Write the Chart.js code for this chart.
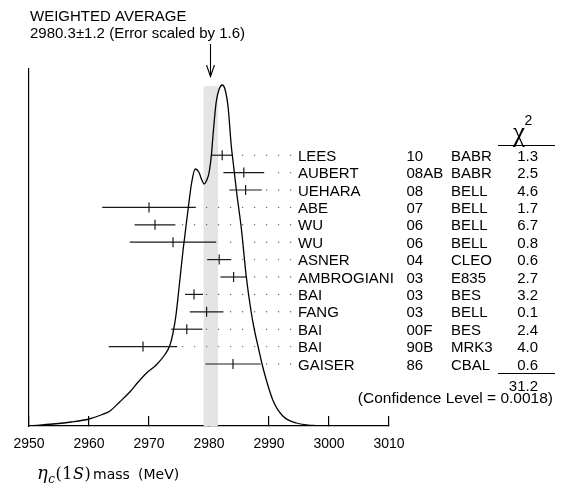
<!DOCTYPE html>
<html>
<head>
<meta charset="utf-8">
<script src="https://cdn.jsdelivr.net/npm/chart.js@4.4.1/dist/chart.umd.min.js"></script>
<style>
  body { margin: 0; background: #fff; }
  #wrap { width: 561px; height: 487px; position: relative; }
</style>
</head>
<body>
<div id="wrap"><canvas id="ideogram"></canvas></div>
<script>
// measurements, top row first
var names  = ["LEES", "AUBERT", "UEHARA", "ABE", "WU", "WU", "ASNER", "AMBROGIANI", "BAI", "FANG", "BAI", "BAI", "GAISER"];
var years  = ["10", "08AB", "08", "07", "06", "06", "04", "03", "03", "03", "00F", "90B", "86"];
var expts  = ["BABR", "BABR", "BELL", "BELL", "BELL", "BELL", "CLEO", "E835", "BES", "BELL", "BES", "MRK3", "CBAL"];
var values = [2982.2, 2985.8, 2986.1, 2970, 2971, 2974, 2981.7, 2984.1, 2977.5, 2979.6, 2976.3, 2969, 2984];
var errors = [1.7, 3.4, 2.7, 7.8, 3.4, 7.2, 2.0, 2.2, 1.5, 2.8, 2.6, 5.7, 4.6];
var chi2   = ["1.3", "2.5", "4.6", "1.7", "6.7", "0.8", "0.6", "2.7", "3.2", "0.1", "2.4", "4.0", "0.6"];
var chi2Total = "31.2";
var confLevel = "0.0018";
var average = 2980.3;
var averageErr = 1.2;
var errScale = "1.6";

// ideogram curve
var curveMass   = [2950, 2954, 2957, 2960, 2962, 2963.5, 2965.1, 2966.8, 2968.2, 2969.6, 2971.2, 2972.6, 2973.5, 2974, 2974.5, 2975, 2975.7, 2976.5, 2977.1, 2977.7, 2978.3, 2978.8, 2979.2, 2979.7, 2980.0, 2980.4, 2980.7, 2981.2, 2981.7, 2982.2, 2982.7, 2983.2, 2983.7, 2984.1, 2984.6, 2985.4, 2986.2, 2987.0, 2987.6, 2988.2, 2988.8, 2989.6, 2990.7, 2992.3, 2994.6, 2997.3, 3000, 3010];
var curveHeight = [0, 2, 4, 7, 11, 15, 24, 34, 44, 53, 61, 71, 81, 93, 111, 138, 177, 216, 243, 257, 254, 246, 242, 247, 253, 271, 293, 324, 337, 341, 336, 318, 281, 260, 234, 197, 150, 115, 95, 79, 63, 45, 25, 10, 3, 0.5, 0, 0];

var xTicks = [2950, 2960, 2970, 2980, 2990, 3000, 3010];

var sans = "'Liberation Sans', Arial, Helvetica, sans-serif";
var serif = "'Liberation Serif', 'Times New Roman', serif";

var curve = curveMass.map(function (m, i) { return {x: m, y: curveHeight[i]}; });

var datasets = [{
  data: curve, showLine: true, yAxisID: "y",
  borderColor: "#000", borderWidth: 1.3, pointRadius: 0,
  cubicInterpolationMode: "monotone"
}];

// one horizontal error bar per measurement
values.forEach(function (v, i) {
  datasets.push({
    data: [{x: v - errors[i], y: i}, {x: v + errors[i], y: i}],
    showLine: true, yAxisID: "yr",
    borderColor: "#1a1a1a", borderWidth: 1.2, pointRadius: 0
  });
});

// central value marks
datasets.push({
  data: values.map(function (v, i) { return {x: v, y: i}; }),
  yAxisID: "yr", pointStyle: "line", rotation: 90, pointRadius: 5,
  borderColor: "#1a1a1a", borderWidth: 1.2
});

// dotted leaders from the bar end to the names
var dots = [];
values.forEach(function (v, i) {
  for (var g = 2993.6; g > v + errors[i] + 0.55; g -= 2) dots.push({x: g, y: i});
});
datasets.push({
  data: dots, yAxisID: "yr", pointRadius: 0.7,
  backgroundColor: "#666", borderWidth: 0
});

var bandPlugin = {
  id: "band",
  beforeDatasetsDraw: function (chart) {
    var ctx = chart.ctx, x = chart.scales.x, y = chart.scales.y;
    var l = x.getPixelForValue(average - averageErr);
    var r = x.getPixelForValue(average + averageErr);
    var top = y.getPixelForValue(Math.max.apply(null, curveHeight) - 1);
    var bot = y.getPixelForValue(0);
    ctx.save();
    ctx.fillStyle = "#e4e4e4";
    ctx.fillRect(l, top, r - l, bot - top);
    ctx.restore();
  }
};

var textPlugin = {
  id: "texts",
  afterDraw: function (chart) {
    var ctx = chart.ctx, x = chart.scales.x, yr = chart.scales.yr;
    ctx.save();
    ctx.fillStyle = "#000";
    ctx.strokeStyle = "#000";
    ctx.textBaseline = "alphabetic";

    // heading
    ctx.font = "15px " + sans;
    ctx.textAlign = "left";
    ctx.fillText("WEIGHTED AVERAGE", 30, 21);
    ctx.fillText(average.toFixed(1) + "\u00b1" + averageErr.toFixed(1) + " (Error scaled by " + errScale + ")", 30, 37.5);

    // arrow to the average
    var ax = Math.round(x.getPixelForValue(average)) - 0.5;
    ctx.lineWidth = 1.1;
    ctx.beginPath();
    ctx.moveTo(ax, 44); ctx.lineTo(ax, 76);
    ctx.moveTo(ax - 4, 65); ctx.lineTo(ax, 76.5); ctx.lineTo(ax + 4, 65);
    ctx.stroke();

    // table of measurements
    ctx.font = "15px " + sans;
    names.forEach(function (n, i) {
      var ty = yr.getPixelForValue(i) + 5.5;
      ctx.textAlign = "left";
      ctx.fillText(n, 298, ty);
      ctx.fillText(years[i], 406.5, ty);
      ctx.fillText(expts[i], 451, ty);
      ctx.textAlign = "right";
      ctx.fillText(chi2[i], 538, ty);
    });

    // chi2 header and rules
    ctx.textAlign = "left";
    ctx.font = "27px " + serif;
    ctx.fillText("\u03c7", 513, 140.5);
    ctx.font = "14px " + sans;
    ctx.fillText("2", 524.5, 125);
    ctx.lineWidth = 1.2;
    ctx.beginPath();
    ctx.moveTo(498, 145.5); ctx.lineTo(555, 145.5);
    ctx.moveTo(498, 373.5); ctx.lineTo(555, 373.5);
    ctx.stroke();

    ctx.font = "15px " + sans;
    ctx.textAlign = "right";
    ctx.fillText(chi2Total, 538, 390.5);
    ctx.font = "15.5px " + sans;
    ctx.fillText("(Confidence Level = " + confLevel + ")", 553, 403);

    // axis title
    ctx.textAlign = "left";
    var by = 479, tx = 37;
    var parts = [
      ["\u03b7", "italic 18px 'DejaVu Serif', serif", 0],
      ["c", "italic 12px 'DejaVu Serif', serif", 4],
      ["(", "16px 'DejaVu Serif', serif", 0],
      ["1", "16px 'DejaVu Serif', serif", 0],
      ["S", "italic 16px 'DejaVu Serif', serif", 0],
      [")", "16px 'DejaVu Serif', serif", 0]
    ];
    parts.forEach(function (p) {
      ctx.font = p[1];
      ctx.fillText(p[0], tx, by + p[2]);
      tx += ctx.measureText(p[0]).width + 0.5;
    });
    ctx.font = "14px 'DejaVu Sans', sans-serif";
    ctx.fillText("mass", 93, by);
    ctx.fillText("(MeV)", 138, by);
    ctx.restore();
  }
};

new Chart("ideogram", {
  type: "scatter",
  data: {datasets: datasets},
  options: {
    responsive: true,
    maintainAspectRatio: false,
    animation: false,
    events: [],
    layout: {padding: {left: 29, right: 172, top: 69, bottom: 0}},
    plugins: {legend: {display: false}, tooltip: {enabled: false}},
    scales: {
      x: {
        type: "linear", min: 2950, max: 3010,
        afterBuildTicks: function (s) { s.ticks = xTicks.map(function (v) { return {value: v}; }); },
        ticks: {
          color: "#000", font: {family: sans, size: 14}, padding: 20,
          maxRotation: 0, autoSkip: false,
          callback: function (v) { return String(v); }
        },
        grid: {display: true, drawOnChartArea: false, drawTicks: true, tickLength: -10, color: "#000", lineWidth: 1.2},
        border: {display: true, color: "#000", width: 1.2},
        afterFit: function (s) {
          s.height = 61;
          s.paddingLeft = 16;
          s.paddingRight = 16;
        }
      },
      y: {
        type: "linear", min: 0, max: 357, position: "left",
        ticks: {display: false},
        grid: {display: false},
        border: {display: true, color: "#000", width: 1.2},
        afterFit: function (s) { s.width = 0; }
      },
      yr: {type: "linear", display: false, min: -4.954, max: 15.563, reverse: true}
    }
  },
  plugins: [bandPlugin, textPlugin]
});
</script>
</body>
</html>
